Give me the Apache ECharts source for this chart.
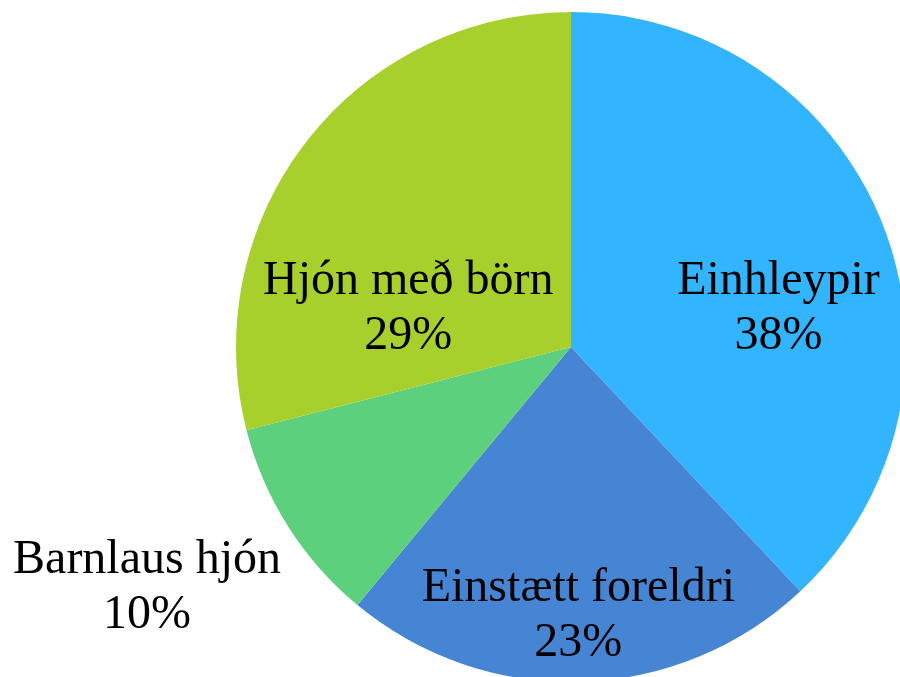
<!DOCTYPE html>
<html>
<head>
<meta charset="utf-8">
<script src="https://cdn.jsdelivr.net/npm/echarts@6/dist/echarts.min.js"></script>
<style>
  html, body { margin: 0; padding: 0; background: #fff; }
  #main { width: 900px; height: 677px; }
</style>
</head>
<body>
<div id="main"></div>
<script>
var categories = ['Einhleypir', 'Einstætt foreldri', 'Barnlaus hjón', 'Hjón með börn'];
var shares = [38, 23, 10, 29];
var colors = ['#33B4FF', '#4684D4', '#5CD07C', '#A8D02C'];

// label nudges from the default inside spot (Excel "best fit" look)
var labelShift = [[49, 25], [2, 98], [-280, 150], [-28, 66]];

var pieData = categories.map(function (name, i) {
    return { name: name, value: shares[i], itemStyle: { color: colors[i] } };
});

var chart = echarts.init(document.getElementById('main'), null, { renderer: 'canvas' });
chart.setOption({
    animation: false,
    series: [{
        type: 'pie',
        center: [571, 347],
        radius: 335,
        startAngle: 90,
        clockwise: true,
        data: pieData,
        itemStyle: { borderWidth: 0 },
        emphasis: { disabled: true },
        label: {
            show: true,
            position: 'inside',
            formatter: '{b}\n{d}%',
            fontFamily: '"Liberation Serif", "Times New Roman", serif',
            fontSize: 48,
            lineHeight: 55,
            color: '#000',
            align: 'center'
        },
        labelLine: { show: false },
        labelLayout: function (params) {
            var s = labelShift[params.dataIndex];
            return { dx: s[0], dy: s[1] };
        }
    }]
});
</script>
</body>
</html>
